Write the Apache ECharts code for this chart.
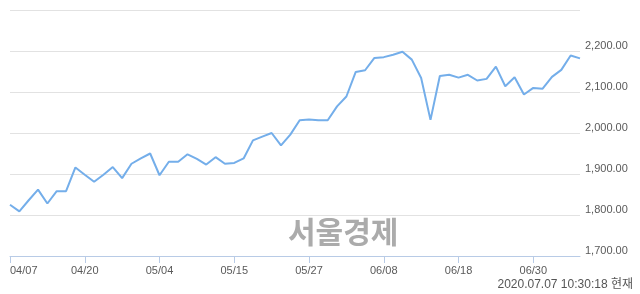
<!DOCTYPE html>
<html><head><meta charset="utf-8">
<script src="https://cdn.jsdelivr.net/npm/echarts@6/dist/echarts.min.js"></script>
<style>html,body{margin:0;padding:0;background:#fff}#c{width:640px;height:294px}</style>
</head><body><div id="c"></div>
<script>
var dates = ['04/07','04/08','04/09','04/10','04/13','04/14','04/16','04/17','04/20','04/21','04/22','04/23','04/24','04/27','04/28','04/29','05/04','05/06','05/07','05/08','05/11','05/12','05/13','05/14','05/15','05/18','05/19','05/20','05/21','05/22','05/25','05/26','05/27','05/28','05/29','06/01','06/02','06/03','06/04','06/05','06/08','06/09','06/10','06/11','06/12','06/15','06/16','06/17','06/18','06/19','06/22','06/23','06/24','06/25','06/26','06/29','06/30','07/01','07/02','07/03','07/06','07/07'];
var values = [1825,1809,1836,1862,1828,1858,1858,1916,1898,1881,1898,1917,1890,1925,1938,1950,1897,1930,1930,1948,1937,1923,1941,1925,1927,1938,1982,1991,2000,1970,1996,2031,2033,2031,2031,2065,2089,2149,2153,2183,2185,2191,2198,2179,2134,2032,2139,2142,2135,2142,2128,2132,2162,2114,2136,2094,2110,2108,2137,2154,2189,2182];
var yMin = 1700, yMax = 2300, yStep = 100;
var stampText = '2020.07.07 10:30:18 현재';
var watermark = '서울경제';

var chart = echarts.init(document.getElementById('c'), null, {renderer:'canvas'});
chart.setOption({
  animation: false,
  grid: {left: 10, right: 60, top: 10, bottom: 38, containLabel: false},
  xAxis: {
    type: 'category', data: dates, boundaryGap: false,
    axisLine: {lineStyle: {color: '#b8cbe6', width: 1}},
    axisTick: {show: true, interval: 7, length: 7, lineStyle: {color: '#b8cbe6'}},
    axisLabel: {interval: 7, color: '#5a5a5a', fontFamily: 'Liberation Sans', fontSize: 11, margin: 9, alignMinLabel: 'left'},
    splitLine: {show: false}
  },
  yAxis: {
    type: 'value', position: 'right', min: yMin, max: yMax, interval: yStep,
    axisLine: {show: false}, axisTick: {show: false},
    axisLabel: {
      color: '#5a5a5a', fontFamily: 'Liberation Sans', fontSize: 11, margin: 5,
      verticalAlign: 'bottom', showMaxLabel: false,
      formatter: function(v){ return v.toLocaleString('en-US',{minimumFractionDigits:2,maximumFractionDigits:2}); }
    },
    splitLine: {lineStyle: {color: '#e2e2e2', width: 1}}
  },
  series: [{
    type: 'line', data: values, symbol: 'none', smooth: false,
    lineStyle: {color: '#74aeea', width: 2}
  }],
  graphic: [
    {type: 'text', left: 288, top: 217, z: 10,
     style: {text: watermark, font: 'bold 30px "Noto Sans CJK KR"', fill: '#ababab'}},
    {type: 'text', right: 7, top: 279,
     style: {text: stampText, font: '12px "Liberation Sans", "Noto Sans CJK KR"', fill: '#555'}}
  ]
});
</script></body></html>
